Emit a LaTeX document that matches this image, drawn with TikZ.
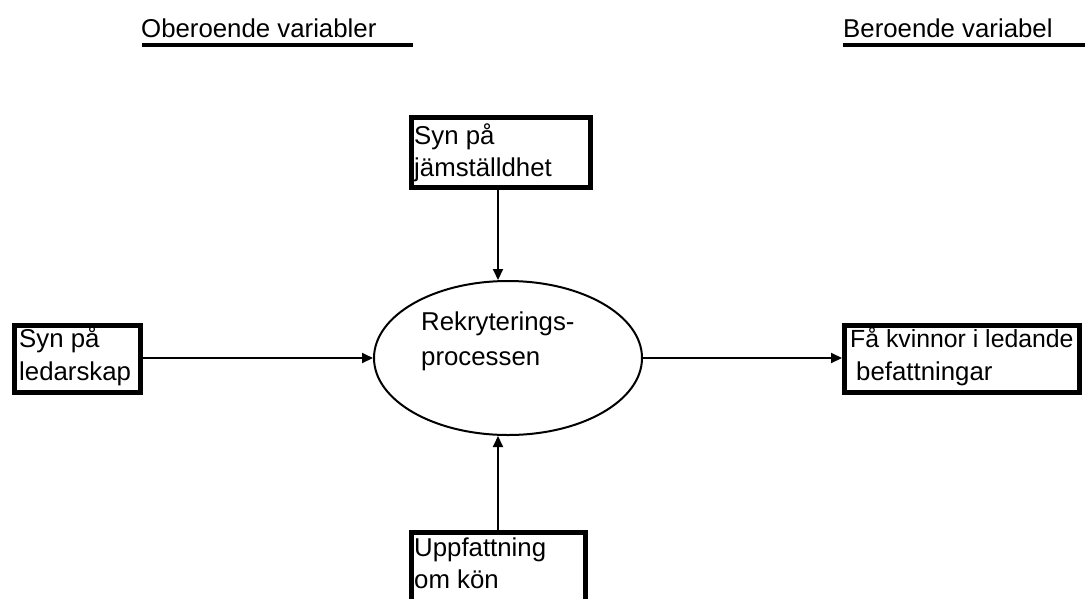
\documentclass[tikz,border=0pt]{standalone}
\usepackage{fontspec}
\setmainfont{Liberation Sans}
\usetikzlibrary{arrows.meta,shapes.geometric}
\begin{document}
\begin{tikzpicture}[x=1pt,y=-1pt,
  boxstyle/.style={draw,rectangle,line width=5pt,inner sep=0pt},
  lbl/.style={anchor=base west,inner sep=0pt,font=\fontsize{25.8}{32}\selectfont},
  arr/.style={line width=2pt,-{Triangle[length=11pt,width=10pt]}},
  uline/.style={line width=4pt}]
\useasboundingbox (0,0) rectangle (1085,598);
\clip (0,0) rectangle (1085,598);

% headings
\node[lbl] (h1) at (141,37) {Oberoende variabler};
\node[lbl] (h2) at (843,37) {Beroende variabel};
\coordinate (u1a) at (142,45);
\coordinate (u1b) at (413,45);
\coordinate (u2a) at (843,45);
\coordinate (u2b) at (1085,45);
\draw[uline] (u1a) -- (u1b);
\draw[uline] (u2a) -- (u2b);

% boxes
\node[boxstyle,minimum width=179pt,minimum height=70pt] (top) at (501,152.5) {};
\node[boxstyle,minimum width=126pt,minimum height=67pt] (lbox) at (77.5,359) {};
\node[boxstyle,minimum width=235pt,minimum height=67pt] (rbox) at (962,359) {};
\node[boxstyle,minimum width=174pt,minimum height=110pt] (bot) at (498.5,587.5) {};

% ellipse
\node[draw,ellipse,line width=2pt,minimum width=268pt,minimum height=154pt,inner sep=0pt] (ell) at (508,358) {};

% texts
\node[lbl] (t1a) at (414,144) {Syn på};
\node[lbl] (t1b) at (414,176) {jämställdhet};
\node[lbl] (t2a) at (19,347) {Syn på};
\node[lbl] (t2b) at (19,380) {ledarskap};
\node[lbl,font=\fontsize{24.8}{32}\selectfont] (t3a) at (850,347) {Få kvinnor i ledande};
\node[lbl] (t3b) at (856,380) {befattningar};
\node[lbl] (t4a) at (414,556) {Uppfattning};
\node[lbl] (t4b) at (414,588) {om kön};
\node[lbl] (t5a) at (421,330) {Rekryterings-};
\node[lbl] (t5b) at (421,365) {processen};

% connectors
\coordinate (ax) at (498,0);
\draw[arr] (top.south -| ax) -- (ell.north -| ax);
\draw[arr] (bot.north -| ax) -- (ell.south -| ax);
\draw[arr] (lbox.east |- ell.west) -- (ell.west);
\draw[arr] (ell.east) -- (rbox.west |- ell.east);
\end{tikzpicture}
\end{document}
